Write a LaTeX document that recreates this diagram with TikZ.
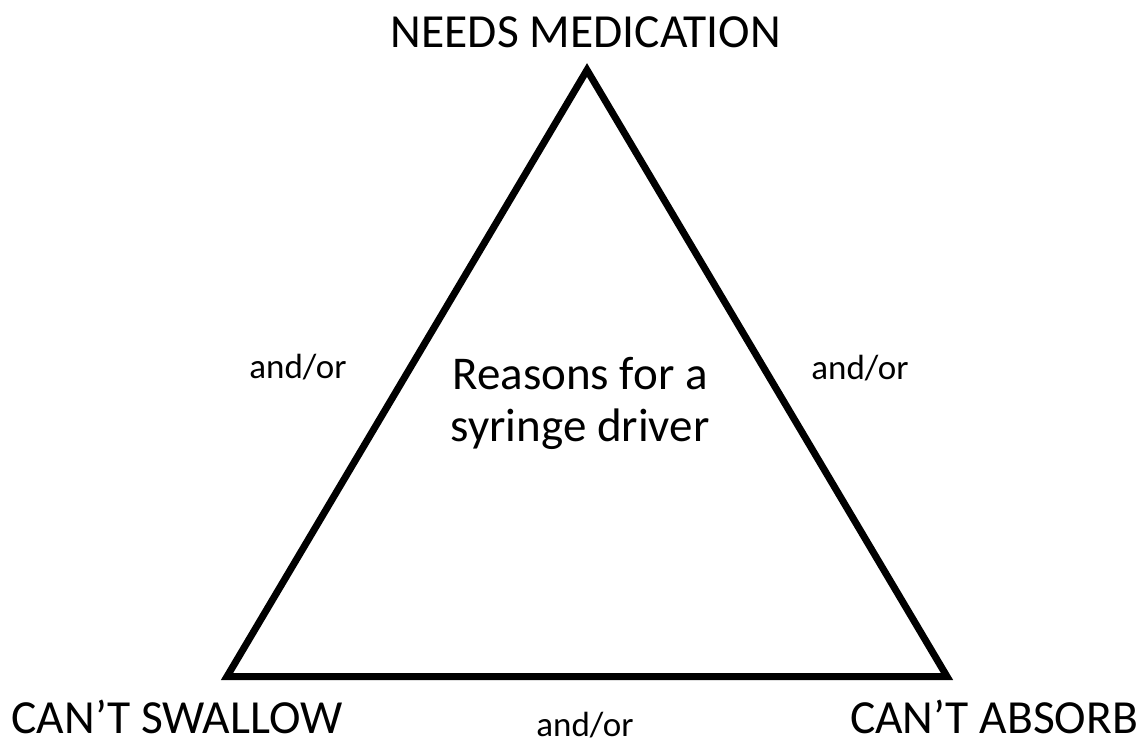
\documentclass[tikz,border=0pt]{standalone}
\usepackage{fontspec}
\setmainfont{Carlito}
\begin{document}
\begin{tikzpicture}[x=1pt,y=-1pt,
  big/.style={font=\fontsize{47.5}{52}\selectfont, inner sep=0pt},
  mid/.style={font=\fontsize{47}{44}\selectfont, inner sep=0pt, anchor=base},
  small/.style={font=\fontsize{35}{40}\selectfont, inner sep=0pt, anchor=base},
  tri/.style={line width=7pt, line join=miter}]
\useasboundingbox (0,0) rectangle (1142,740);
\coordinate (A) at (587,70);
\coordinate (B) at (227,676.5);
\coordinate (C) at (947,676.5);
\draw[tri] (A) -- (B) -- (C) -- cycle;
\node[big, anchor=base] (top) at (586,47) {NEEDS MEDICATION};
\node[big] (bl) at (177,717) {CAN’T SWALLOW};
\node[big] (br) at (994,717) {CAN’T ABSORB};
\node[small] (al) at (298,378) {and/or};
\node[small] (ar) at (860,379) {and/or};
\node[small] (ab) at (585,736) {and/or};
\node[mid] (c1) at (580,389) {Reasons for a};
\node[mid] (c2) at (580,441) {syringe driver};
\end{tikzpicture}
\end{document}
